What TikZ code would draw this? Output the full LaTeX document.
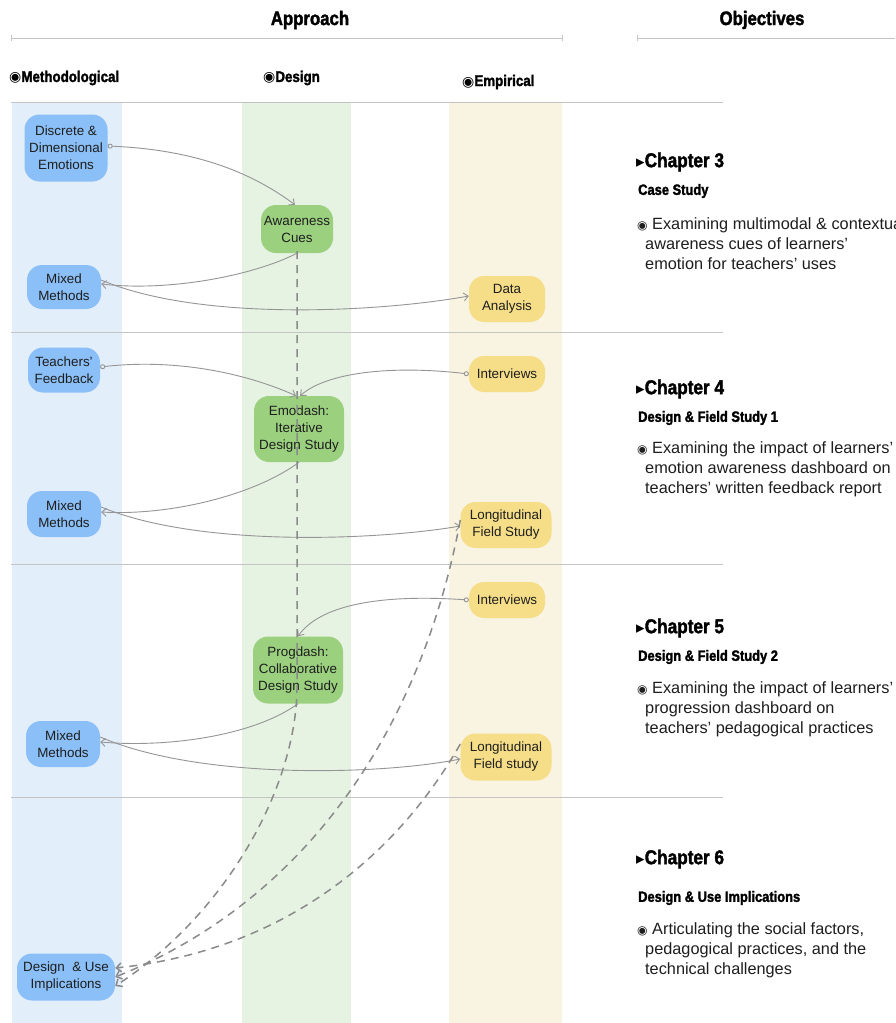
\documentclass[tikz,border=0pt]{standalone}
\usepackage{fontspec}
\setmainfont{Liberation Sans}
\newfontfamily\headfont[FakeStretch=0.86,FakeBold=1.8]{Liberation Sans}
\newfontfamily\symfont{DejaVu Sans}
\usetikzlibrary{arrows.meta}
\definecolor{mblue}{HTML}{8BBFF7}
\definecolor{dgreen}{HTML}{9BD07F}
\definecolor{eyell}{HTML}{F6DE88}
\definecolor{bandb}{HTML}{E3EEFB}
\definecolor{bandg}{HTML}{E6F3E2}
\definecolor{bandy}{HTML}{F9F3E1}
\definecolor{conn}{HTML}{959595}
\definecolor{dconn}{HTML}{8A8A8A}
\definecolor{sepc}{HTML}{C4C4C4}
\definecolor{txt}{HTML}{1E1E1E}
\newcommand{\bul}{{\symfont\fontsize{12}{12}\selectfont ◉}}
\newcommand{\hbul}{{\symfont\fontsize{14}{14}\selectfont ◉}}
\newcommand{\tri}{{\symfont\fontsize{17}{17}\selectfont ▸}}
\begin{document}
\begin{tikzpicture}[x=1pt,y=-1pt,
  box/.style={rounded corners=15pt, align=center, inner sep=2pt, text=txt,
    font=\fontsize{13.4}{17}\selectfont},
  mbox/.style={box, fill=mblue},
  dbox/.style={box, fill=dgreen},
  ebox/.style={box, fill=eyell},
  con/.style={draw=conn, line width=0.9pt, -{Straight Barb[length=4.5pt,width=8pt]}},
  ocon/.style={draw=conn, line width=0.9pt, {Circle[open,length=5pt,width=5pt]}-{Straight Barb[length=4.5pt,width=8pt]}},
  dcon/.style={draw=dconn, line width=1.5pt, dash pattern=on 8pt off 6pt, -{Straight Barb[length=5pt,width=9pt]}},
  sep/.style={draw=sepc, line width=0.6pt},
  head/.style={font=\headfont\bfseries\fontsize{19.5}{22}\selectfont, text=black, inner sep=0pt},
  colh/.style={font=\headfont\bfseries\fontsize{15.5}{17}\selectfont, text=black, inner sep=0pt, anchor=west},
  chap/.style={font=\headfont\bfseries\fontsize{20}{22}\selectfont, text=black, inner sep=0pt, anchor=west},
  sub/.style={font=\headfont\bfseries\fontsize{15}{17}\selectfont, text=black, inner sep=0pt, anchor=west},
  body/.style={font=\fontsize{16.3}{20}\selectfont, text=txt, inner sep=0pt, anchor=north west, align=left},
]
\useasboundingbox[fill=white] (0,0) rectangle (895,1023);

% bands
\fill[bandb] (12,102) rectangle (122,1023);
\fill[bandg] (242,102) rectangle (351,1023);
\fill[bandy] (449,102) rectangle (562,1023);

% header lines
\draw[sep] (11,38) -- (562,38);
\draw[sep] (11,35) -- (11,41);
\draw[sep] (562,35) -- (562,41);
\draw[sep] (637,38) -- (895,38);
\draw[sep] (637,35) -- (637,41);
\draw[sep] (11,102) -- (723,102);
\draw[sep] (11,332) -- (723,332);
\draw[sep] (11,564) -- (723,564);
\draw[sep] (11,797) -- (723,797);

% headers
\node[head] (ap) at (310,20) {Approach};
\node[head] (ob) at (762,20) {Objectives};
\node[colh] (meth) at (9,78) {\hbul Methodological};
\node[colh] (des) at (263,78) {\hbul Design};
\node[colh] (emp) at (462,82) {\hbul Empirical};

% nodes
\node[mbox, minimum width=83, minimum height=67] (de) at (66,148) {Discrete \&\\Dimensional\\Emotions};
\node[dbox, minimum width=72, minimum height=48] (ac) at (297,229) {Awareness\\Cues};
\node[mbox, minimum width=74, minimum height=44] (mm1) at (64,287) {Mixed\\Methods};
\node[ebox, minimum width=76, minimum height=46] (da) at (507,299) {Data\\Analysis};
\node[mbox, minimum width=72, minimum height=45] (tf) at (64,370) {Teachers'\\Feedback};
\node[ebox, minimum width=76, minimum height=36] (iv1) at (507,374) {Interviews};
\node[dbox, minimum width=90, minimum height=66] (emo) at (299,429) {Emodash:\\Iterative\\Design Study};
\node[mbox, minimum width=74, minimum height=46] (mm2) at (64,514) {Mixed\\Methods};
\node[ebox, minimum width=91, minimum height=46] (lfs1) at (506,525) {Longitudinal\\Field Study};
\node[ebox, minimum width=76, minimum height=36] (iv2) at (507,600) {Interviews};
\node[dbox, minimum width=90, minimum height=67] (pro) at (298,670) {Progdash:\\Collaborative\\Design Study};
\node[mbox, minimum width=74, minimum height=46] (mm3) at (63,744) {Mixed\\Methods};
\node[ebox, minimum width=91, minimum height=47] (lfs2) at (506,757) {Longitudinal\\Field study};
\node[mbox, minimum width=98, minimum height=47] (du) at (66,977) {Design~~\&~Use\\Implications};

% solid connectors
\draw[ocon] ([yshift=2]de.east) .. controls (200,150) and (255,175) .. ([xshift=-2]ac.north);
\draw[con] (ac.south) .. controls (255,275) and (170,292) .. ([yshift=3]mm1.east);
\draw[con] ([yshift=7]mm1.east) .. controls (200,322) and (380,312) .. ([yshift=3]da.west);
\draw[ocon] ([yshift=3]tf.east) .. controls (180,358) and (250,375) .. ([xshift=-3]emo.north);
\draw[ocon] (iv1.west) .. controls (400,366) and (330,370) .. ([xshift=1]emo.north);
\draw[con] (emo.south) .. controls (255,495) and (170,516) .. ([yshift=2]mm2.east);
\draw[con] ([yshift=7]mm2.east) .. controls (200,548) and (380,540) .. ([yshift=-1]lfs1.west);
\draw[ocon] (iv2.west) .. controls (380,594) and (320,605) .. (pro.north);
\draw[con] (pro.south) .. controls (255,735) and (170,748) .. ([yshift=2]mm3.east);
\draw[con] ([yshift=7]mm3.east) .. controls (200,780) and (380,775) .. ([yshift=-2]lfs2.west);

% dashed connectors
\draw[dcon] ([yshift=2]ac.south) -- (297,690) .. controls (295,790) and (225,915) .. ([yshift=-9]du.east);
\draw[dcon] ([yshift=5]lfs1.west) .. controls (425,710) and (320,895) .. ([yshift=0]du.east);
\draw[dcon] ([yshift=13]lfs2.west) .. controls (400,850) and (290,950) .. ([yshift=9]du.east);

% objectives
\node[chap] (c3) at (636,162) {\tri Chapter 3};
\node[sub] (s3) at (638,191) {Case Study};
\node[body] (b3) at (637,217) {\bul\ Examining multimodal \& contextual\\\hspace*{8pt}awareness cues of learners'\\\hspace*{8pt}emotion for teachers' uses};

\node[chap] (c4) at (636,389) {\tri Chapter 4};
\node[sub] (s4) at (638,418) {Design \& Field Study 1};
\node[body] (b4) at (637,441) {\bul\ Examining the impact of learners'\\\hspace*{8pt}emotion awareness dashboard on\\\hspace*{8pt}teachers' written feedback report};

\node[chap] (c5) at (636,628) {\tri Chapter 5};
\node[sub] (s5) at (638,657) {Design \& Field Study 2};
\node[body] (b5) at (637,681) {\bul\ Examining the impact of learners'\\\hspace*{8pt}progression dashboard on\\\hspace*{8pt}teachers' pedagogical practices};

\node[chap] (c6) at (636,859) {\tri Chapter 6};
\node[sub] (s6) at (638,898) {Design \& Use Implications};
\node[body] (b6) at (637,922) {\bul\ Articulating the social factors,\\\hspace*{8pt}pedagogical practices, and the\\\hspace*{8pt}technical challenges};
\end{tikzpicture}
\end{document}
